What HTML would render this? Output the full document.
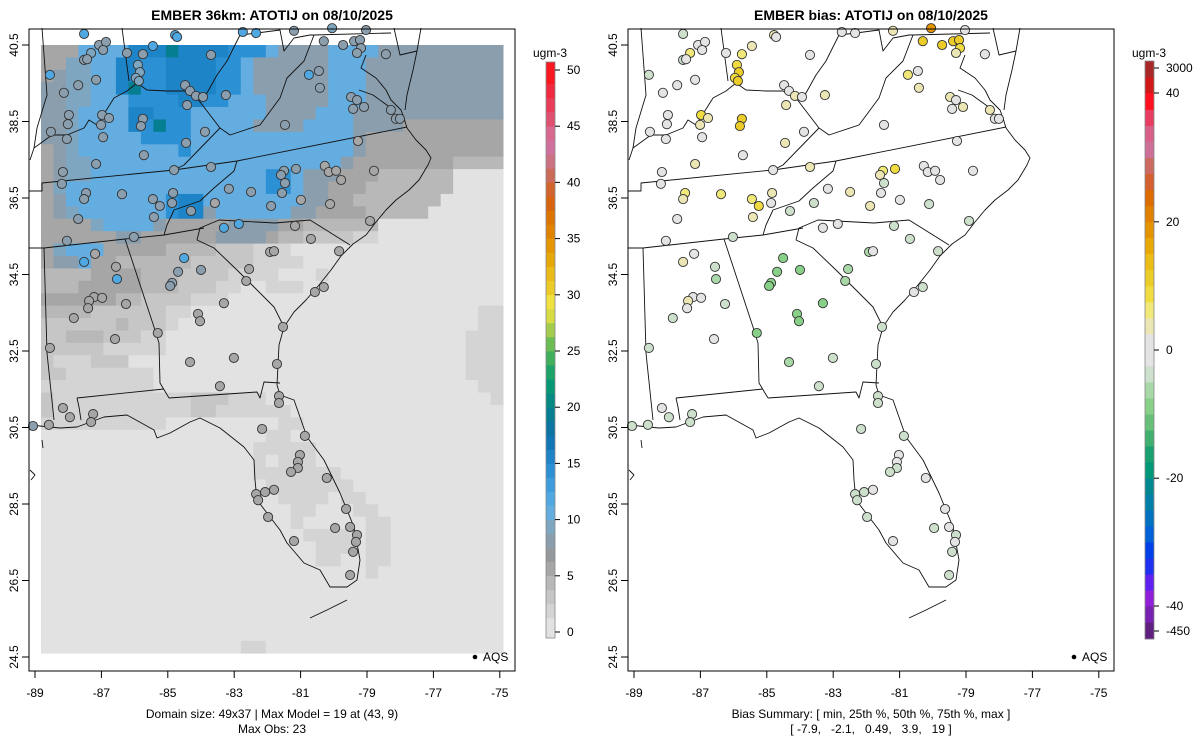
<!DOCTYPE html>
<html><head><meta charset="utf-8">
<style>
html,body{margin:0;padding:0;background:#fff;}
svg{display:block;font-family:"Liberation Sans",sans-serif;}
</style></head>
<body>
<svg id="chart" width="1200" height="750" viewBox="0 0 1200 750" xmlns="http://www.w3.org/2000/svg">
<g id="left"></g>
<g id="right"></g>
</svg>
<script>
// ---------- data ----------
const gridRows = [
"4447777999T9999888755557777555555555555",
"4466779988999988755555577755555555555",
"4566779988999988755555577755555555555",
"5566779T88999988755555577755555555555",
"5566777888899887775555577755555555555",
"5567777998887777775555777555555555555",
"556777798T887777755557777555544444444",
"5567777788887777777777777544444444444",
"4567777777787777777777777544444444444",
"4566777777777777777777775444444443333",
"4566777777777777778875554443333330000",
"4677777777777777778875544433333330000",
"4577777777899777777775544333333300000",
"4567777777899577777755444433333000000",
"4444677775444445555443333330000000000",
"4444445544444455554332222110000000000",
"4677744444333322211100000000000000000",
"4557443333332222211110000000000000000",
"3333444433322221111000100000000000000",
"3334444433322211001110000000000000000",
"4444443322221110000000000000000000000",
"3333222222110000000000000000000000011",
"2222223222100000000000000000000000011",
"2233322211000000000000000000000000111",
"2222211111000000000000000000000000111",
"2111222000000000000000000000000000111",
"2211111110000000000000000000000000111",
"1111111110000000000000000000000000011",
"2111111111112221110000000000000000001",
"2111111111112211111100000000000000000",
"1111111111000000000110000000000000000",
"0000000000000000001100000000000000000",
"0000000000000000011111000000000000000",
"0000000000000000010111000000000000000",
"0000000000000000011111110000000000000",
"0000000000000000001111111000000000000",
"0000000000000000000111101100000000000",
"0000000000000000000011000110000000000",
"0000000000000000000010000011000000000",
"0000000000000000000001111011000000000",
"0000000000000000000000111011000000000",
"0000000000000000000000110011000000000",
"0000000000000000000000000010000000000",
"0000000000000000000000000000000000000",
"0000000000000000000000000000000000000",
"0000000000000000000000000000000000000",
"0000000000000000000000000000000000000",
"0000000000000000000000000000000000000",
"0000000000000000110000000000000000000"
];
const levelChars = ["0","1","2","3","4","5","6","7","8","9","T"];
const levelValues = [0.6,1.8,3.0,4.2,5.6,8.0,9.0,11.0,14.0,16.0,19.0];

const stLon = [-87.52,-87.07,-86.86,-86.95,-87.31,-87.52,-87.43,-86.23,-85.75,-85.45,-84.78,-84.72,-85.90,-85.84,-85.96,-85.87,-88.55,-87.70,-87.16,-88.13,-83.70,-82.74,-82.34,-81.20,-80.05,-80.30,-79.72,-79.39,-79.21,-79.18,-79.30,-79.03,-78.43,-80.75,-80.45,-80.42,-83.25,-84.48,-84.33,-84.15,-83.94,-84.42,-79.48,-79.30,-79.42,-79.09,-78.28,-78.13,-78.01,-87.98,-88.01,-86.98,-86.77,-87.01,-85.75,-85.81,-88.52,-88.04,-86.95,-83.88,-84.45,-81.47,-79.27,-85.72,-87.16,-88.16,-88.19,-84.81,-83.70,-81.50,-81.59,-81.14,-80.27,-80.15,-79.93,-79.78,-78.79,-81.47,-87.46,-87.52,-86.38,-85.45,-85.24,-84.84,-84.87,-83.16,-82.49,-81.56,-80.99,-81.89,-80.11,-83.58,-84.30,-87.70,-85.42,-82.86,-78.91,-83.31,-81.17,-88.04,-86.02,-80.69,-87.19,-87.52,-86.56,-86.53,-84.51,-84.69,-84.00,-84.87,-84.93,-81.92,-81.80,-79.84,-82.55,-82.64,-87.22,-87.37,-86.98,-87.40,-86.26,-87.83,-83.31,-84.09,-84.03,-80.57,-80.30,-81.53,-85.30,-86.59,-88.55,-84.33,-83.01,-81.71,-83.43,-81.65,-81.65,-88.16,-87.95,-87.25,-87.31,-88.58,-89.06,-82.16,-80.87,-81.02,-81.08,-81.08,-81.29,-80.21,-82.34,-82.07,-81.80,-82.28,-81.98,-79.63,-79.96,-79.51,-79.30,-79.33,-79.42,-79.51,-81.20];
const stLat = [40.79,40.50,40.58,40.37,40.29,40.11,40.13,40.29,40.26,40.47,40.76,40.71,39.98,39.79,39.64,39.56,39.72,39.45,39.59,39.25,40.24,40.84,40.81,40.87,40.94,40.60,40.50,40.60,40.63,40.42,40.29,40.89,40.26,39.72,39.82,39.38,39.19,39.45,39.30,39.17,39.14,38.93,39.14,39.06,38.83,38.88,38.80,38.57,38.57,38.67,38.43,38.67,38.59,38.41,38.57,38.38,38.23,38.04,38.09,38.23,37.94,38.41,37.99,37.62,37.39,37.18,36.87,37.23,37.31,37.21,37.10,37.26,37.34,37.18,37.21,36.97,37.21,36.89,36.63,36.47,36.60,36.47,36.29,36.63,36.37,36.74,36.66,36.63,36.45,36.29,36.34,36.37,36.16,35.95,36.00,35.82,35.90,35.72,35.77,35.38,35.48,35.43,35.04,34.83,34.70,34.38,34.93,34.57,34.62,34.28,34.20,35.09,35.11,35.11,34.64,34.33,33.91,33.81,33.89,33.62,33.73,33.36,33.75,33.47,33.28,34.04,34.17,33.13,32.97,32.81,32.58,32.21,32.32,32.16,31.58,31.32,31.14,31.01,30.77,30.85,30.64,30.57,30.54,30.46,30.28,29.78,29.60,29.44,29.34,29.18,28.76,28.81,28.87,28.60,28.16,28.37,27.87,27.90,27.69,27.51,27.25,26.64,27.53];
const stObs = [12,8.5,8.5,8.5,9,8.5,8.5,8.5,8.5,12,12,12,9,9,9,9,12,8.5,8.5,8.5,8.5,12,12,8.5,9,8.5,8.5,8.5,8.5,8.5,8.5,8.5,7.5,12,8.5,8.5,8.5,8.5,8.5,8.5,8.5,8.5,8.5,8.5,8.5,8.5,7.5,7.5,7.5,8.5,8.5,8.5,8.5,8.5,8.5,8.5,8.5,8.5,8.5,8.5,8.5,8.5,5.5,8.5,8.5,8.5,8.5,8.5,8.5,8.5,8.5,8.5,5.5,5.5,5.5,5.5,5,8.5,8.5,8.5,8.5,8.5,8.5,8.5,8.5,8.5,8.5,8.5,5.5,8.5,5.5,5.5,8.5,8.5,8.5,12,5,12,5.5,8.5,8.5,5.5,5.5,12,5.5,12,12,8.5,8.5,8.5,8.5,5,5,5,5,5,5.5,5.5,5.5,5.5,5.5,5.5,5,5,5,5.5,5,5,5,5,5,5,5,5,5,5,5,5,5,5,5,5,8.5,5,5,5,5,5,5,5,5,5,5,5,5,5,5,5,5,5,5,5,5,5,5];
const stBias = [-3,0,0,0,6,-3,0,0,6,3,3,0,9,12,9,12,-3,0,0,0,0,0,0,3,19,12,12,12,12,9,3,0,0,6,0,3,3,0,0,3,0,3,3,0,0,3,3,0,0,0,0,9,3,3,12,12,0,0,0,0,3,0,0,0,3,0,0,0,3,6,3,9,0,0,0,0,0,-3,6,3,6,6,9,3,0,0,3,0,0,3,-3,-3,-3,0,3,0,-3,0,-3,0,-3,-3,0,3,-3,-6,-8,-8,-8,-8,-8,-6,0,-3,-6,-6,0,3,0,0,-3,-3,-8,-8,-8,0,-3,-3,-8,0,-3,-6,-3,-3,-3,-3,-3,0,-3,-3,-3,-3,-3,-3,-3,0,0,-3,-3,0,-3,-3,0,-3,-3,0,-3,0,-3,0,-3,-3,0];

const obsTicks = [0,5,10,15,20,25,30,35,40,45,50];
const biasTickLabels = ["3000","40","20","0","-20","-40","-450"];
const biasTickValues = [3000,40,20,0,-20,-40,-450];
const xTicks = [-89,-87,-85,-83,-81,-79,-77,-75];
const yTicks = [40.5,38.5,36.5,34.5,32.5,30.5,28.5,26.5,24.5];

const obsColors = ["#e2e2e2","#d4d4d4","#c6c6c6","#b8b8b8","#a6a6a6","#96999c","#8a9eae","#7ea6c0","#64ade0","#50a8e2","#3c9cdc","#2c90d4","#1e84c8","#1076b4","#0a74a2","#067e92","#048a82","#069874","#1ca468","#40b05c","#6cbc54","#a4cc4c","#d8dc44","#f0e040","#ecca28","#eaba18","#e6a808","#e49600","#e08400","#dc7400","#d86410","#d2642c","#cc6a58","#cc7084","#d0709c","#d86890","#e05070","#e83c58","#f02840","#f81820"];
const biasBreaks = [-450,-245,-40,-37.5,-35,-32.5,-30,-27.5,-25,-22.5,-20,-17.5,-15,-12.5,-10,-7.5,-5,-2.5,0,2.5,5,7.5,10,12.5,15,17.5,20,22.5,25,27.5,30,32.5,35,37.5,40,1520,3000];
const biasColors = ["#602080","#7820b0","#9020d8","#6020f0","#2030f0","#0040e8","#0060d8","#0070c0","#0080a8","#008890","#009878","#18a070","#40b070","#68c078","#88d088","#a8d8a8","#cce0cc","#e4e4e4","#e4e4e4","#ece6b4","#f0e878","#f0dc40","#eccc28","#ecbc18","#e8a808","#e49400","#e08000","#dc6c00","#d46030","#cc6a60","#cc7098","#d86088","#e83c60","#ff1020","#d01818","#a82828"];

const mapLines = [
[[628,191],[641,191],[641,183],[773,170],[836,161],[1006,127]],
[[628,248],[643,248],[724,239],[763,235],[803,228]],
[[796,240],[799,228],[818,220],[874,223],[909,220],[949,245]],
[[836,161],[833,171],[813,188],[799,201],[773,210],[766,225],[763,235]],
[[796,240],[813,248],[836,270],[853,287],[873,307],[883,327]],
[[724,239],[753,327],[758,343],[759,383],[768,398]],
[[768,398],[856,392],[859,398],[863,382],[879,383]],
[[643,248],[646,353],[653,420]],
[[676,398],[763,389]],
[[676,398],[678,407],[680,420]],
[[629,160],[633,148],[651,135],[666,135],[683,128],[688,120],[696,125],[713,98],[726,91],[736,83],[746,90],[766,91],[783,91],[796,98],[806,93],[816,75],[826,61],[839,35]],
[[641,28],[646,95],[636,128],[633,148]],
[[721,28],[728,81]],
[[796,98],[819,128],[783,165],[773,170]],
[[819,128],[829,135],[859,125],[879,98],[886,78],[903,61],[913,35]],
[[839,35],[856,33],[879,30],[883,51],[893,38],[909,35],[913,35],[990,33]],
[[993,28],[999,55],[1016,51],[1020,28]],
[[1016,51],[1012,70],[1006,95],[1004,110]],
[[965,55],[960,68],[975,78],[985,90],[990,100],[1000,110],[1003,118],[1006,128]],
[[958,90],[972,95],[990,108]],
[[1006,128],[1015,140],[1025,150],[1030,158],[1027,165],[1018,180],[1008,190],[995,200],[985,210],[975,222],[965,235],[952,244],[940,256],[930,270],[918,285],[905,300],[893,312],[883,327],[878,345],[877,365],[876,385],[879,395],[893,400],[906,437],[923,460],[939,493],[953,527],[959,560],[956,580],[946,587],[929,587],[919,570],[903,563],[886,543],[879,530],[866,513],[856,500],[854,480],[853,460],[843,447],[819,428],[799,418],[789,422],[769,433],[756,438],[753,430],[726,415],[703,417],[676,427],[659,428],[639,426],[629,425]],
[[946,600],[926,610],[909,618]],
[[629,470],[634,475],[630,480]],
[[641,440],[642,448]]
];

const NS = "http://www.w3.org/2000/svg";
function mk(tag, attrs, parent){const e=document.createElementNS(NS,tag);for(const k in attrs)e.setAttribute(k,attrs[k]);parent.appendChild(e);return e;}
function xScale(lon, x0){return x0 + (lon + 89) * 33.2;}
function yScale(lat){return 45 + (40.5 - lat) * 38.25;}
function obsColor(v){let i=Math.floor(v/1.25);i=Math.max(0,Math.min(obsColors.length-1,i));return obsColors[i];}
function biasColor(v){for(let i=0;i<biasBreaks.length-1;i++){if(v<biasBreaks[i+1])return biasColors[i];}return biasColors[biasColors.length-1];}
function biasBarY(v){
 if(v>=40){return 93-(v-40)/(3000-40)*32;}
 if(v<=-40){return 606+(-40-v)/(410)*33;}
 return 350 - v*6.41;
}
function obsBarY(v){return 632 - v*11.24;}

function drawPanel(g, x0, boxL, title, isBias){
 const dx = x0 - 634;
 const t = mk("text",{x:boxL+243,y:20,"text-anchor":"middle","font-size":"14","font-weight":"bold",fill:"#000"},g);
 t.textContent = title;
 
 
 if(!isBias){
  const gg = mk("g",{},g);
  
  
  const cw = 0.3762, ch = 0.3245, lon0 = -88.82;
  for(let r=0;r<49;r++){
   const row = gridRows[r];
   for(let c=0;c<37;c++){
    const chv = row[Math.min(c,row.length-1)];
    const v = levelValues[levelChars.indexOf(chv)];
    const xa = xScale(lon0 + c*cw, x0), xb = xScale(lon0 + (c+1)*cw, x0);
    const ya = yScale(40.5 - r*ch), yb = yScale(40.5 - (r+1)*ch);
    const cell = mk("rect",{x:xa.toFixed(2),y:ya.toFixed(2),width:(xb-xa+0.4).toFixed(2),height:(yb-ya+0.4).toFixed(2),fill:obsColor(v)},gg);
    
    
   }
  }
 }
 const ml = mk("g",{transform:`translate(${dx},0)`,fill:"none",stroke:"#111","stroke-width":"0.9","stroke-linejoin":"round"},g);
 
 
 mapLines.forEach(line=>{
  const p = mk("polyline",{points:line.map(q=>q.join(",")).join(" ")},ml);
  
  
 });
 const sg = mk("g",{},g);
 
 
 for(let i=0;i<stLon.length;i++){
  const col = isBias ? biasColor(stBias[i]) : obsColor(stObs[i]);
  const c = mk("circle",{cx:xScale(stLon[i],x0).toFixed(1),cy:yScale(stLat[i]).toFixed(1),r:"4.6",fill:col,stroke:"#333","stroke-width":"0.9"},sg);
  
  
 }
 const box = mk("rect",{x:boxL,y:29,width:486,height:642,fill:"none",stroke:"#000","stroke-width":"1"},g);
 
 
 xTicks.forEach(v=>{
  const x = xScale(v,x0);
  const l = mk("line",{x1:x,y1:671,x2:x,y2:678,stroke:"#000"},g);
  
  
  const tx = mk("text",{x:x,y:697,"text-anchor":"middle","font-size":"12",fill:"#000"},g);
  tx.textContent = String(v);
  
  
 });
 yTicks.forEach(v=>{
  const y = yScale(v);
  const l = mk("line",{x1:boxL,y1:y,x2:boxL-7,y2:y,stroke:"#000"},g);
  
  
  const tx = mk("text",{x:boxL-11,y:y,"text-anchor":"middle","font-size":"12",fill:"#000",transform:`rotate(-90 ${boxL-11} ${y})`},g);
  tx.textContent = v.toFixed(1);
  
  
 });
 const lg = mk("g",{},g);
 
 
 mk("circle",{cx:boxL+446,cy:657,r:"2.3",fill:"#000"},lg);
 const lt = mk("text",{x:boxL+454,y:661,"font-size":"12",fill:"#000"},lg);
 lt.textContent = "AQS";
 const cbx = boxL+517;
 const cb = mk("g",{},g);
 
 
 const ut = mk("text",{x:cbx+4,y:57,"text-anchor":"middle","font-size":"12",fill:"#000"},cb);
 ut.textContent = "ugm-3";
 
 
 if(!isBias){
  for(let i=0;i<obsColors.length;i++){
   let ya = obsBarY((i+1)*1.25), yb = obsBarY(i*1.25);
   if(i===obsColors.length-1) ya = 62;
   if(i===0) yb = 638;
   const s = mk("rect",{x:cbx,y:ya.toFixed(2),width:9,height:(yb-ya+0.3).toFixed(2),fill:obsColors[i]},cb);
   
   
  }
  mk("rect",{x:cbx,y:62,width:9,height:576,fill:"none",stroke:"#888","stroke-width":"0.8"},cb);
  obsTicks.forEach(v=>{
   const y = obsBarY(v);
   mk("line",{x1:cbx+9,y1:y,x2:cbx+14,y2:y,stroke:"#000"},cb);
   const tx = mk("text",{x:cbx+21,y:y+4,"font-size":"12",fill:"#000"},cb);
   tx.textContent = String(v);
   
   
  });
 } else {
  for(let i=0;i<biasColors.length;i++){
   const ya = biasBarY(biasBreaks[i+1]), yb = biasBarY(biasBreaks[i]);
   const s = mk("rect",{x:cbx,y:ya.toFixed(2),width:9,height:(yb-ya+0.3).toFixed(2),fill:biasColors[i]},cb);
   
   
  }
  mk("rect",{x:cbx,y:61,width:9,height:578,fill:"none",stroke:"#888","stroke-width":"0.8"},cb);
  biasTickValues.forEach((v,k)=>{
   let y = biasBarY(v);
   if(v===3000) y = 68;
   if(v===-450) y = 631;
   mk("line",{x1:cbx+9,y1:y,x2:cbx+14,y2:y,stroke:"#000"},cb);
   const tx = mk("text",{x:cbx+21,y:y+4,"font-size":"12",fill:"#000"},cb);
   tx.textContent = biasTickLabels[k];
   
   
  });
 }
}

drawPanel(document.getElementById('left'), 35, 29, "EMBER 36km: ATOTIJ on 08/10/2025", false);
drawPanel(document.getElementById('right'), 634, 628, "EMBER bias: ATOTIJ on 08/10/2025", true);

const svg = document.getElementById('chart');
const notes = [
 [272,718,"Domain size: 49x37 | Max Model = 19 at (43, 9)","model-footnote"],
 [272,733,"Max Obs: 23","max-obs-footnote"],
 [871,718,"Bias Summary: [ min, 25th %, 50th %, 75th %, max ]","bias-summary-header"],
 [871,733,"[ -7.9,   -2.1,   0.49,   3.9,   19 ]","bias-summary-values"]
];
notes.forEach(n=>{
 const t = mk("text",{x:n[0],y:n[1],"text-anchor":"middle","font-size":"12",fill:"#000","xml:space":"preserve"},svg);
 t.style.whiteSpace = "pre";
 t.textContent = n[2];
 
 
});
</script>
</body></html>
